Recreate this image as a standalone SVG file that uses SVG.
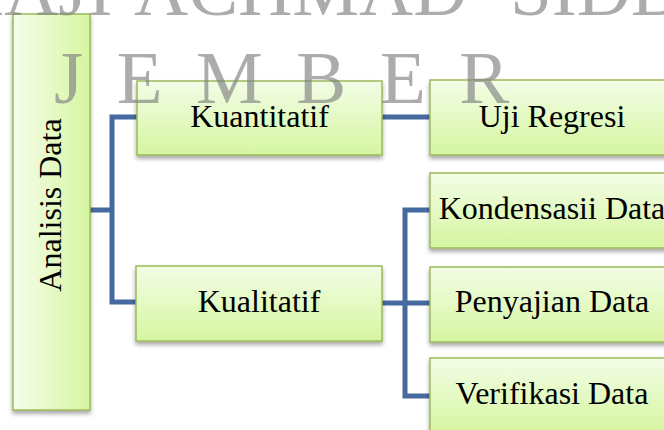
<svg xmlns="http://www.w3.org/2000/svg" width="664" height="430" viewBox="0 0 664 430">
<defs>
<linearGradient id="gv" x1="0" y1="0" x2="0" y2="1">
<stop offset="0" stop-color="#f3fde6"/>
<stop offset="1" stop-color="#d5f6a0"/>
</linearGradient>
<linearGradient id="gh" x1="0" y1="0" x2="1" y2="0">
<stop offset="0" stop-color="#f6fdeb"/>
<stop offset="1" stop-color="#d5f6a0"/>
</linearGradient>
<filter id="sh" x="-20%" y="-20%" width="140%" height="140%">
<feDropShadow dx="0" dy="3" stdDeviation="2" flood-color="#000" flood-opacity="0.35"/>
</filter>
</defs>
<style>
.box{fill:url(#gv);stroke:#9bbb59;stroke-width:1.5;filter:url(#sh)}
.boxh{fill:url(#gh);stroke:#9bbb59;stroke-width:1.5;filter:url(#sh)}
.lbl{font-family:"Liberation Serif","Times New Roman",serif;font-size:32px;fill:#000;text-anchor:middle}
.con{fill:none;stroke:#46699f;stroke-width:5}
.wm{font-family:"Liberation Serif","Times New Roman",serif;font-size:75px;fill:#7f7f7f;fill-opacity:0.65}
</style>
<rect width="664" height="430" fill="#fff"/>
<g id="connectors">
<path class="con" d="M90 210 H112"/>
<path class="con" d="M137 117 H112 V302 H136"/>
<path class="con" d="M382 117 H430"/>
<path class="con" d="M382 303 H430"/>
<path class="con" d="M430 210 H405 V396 H430"/>
</g>
<g id="analisis-data">
<rect class="boxh" x="13" y="14" width="77" height="396"/>
<text class="lbl" transform="translate(61,205) rotate(-90)">Analisis Data</text>
</g>
<g id="kuantitatif">
<rect class="box" x="137" y="81" width="245" height="74"/>
<text class="lbl" x="259.5" y="127">Kuantitatif</text>
</g>
<g id="kualitatif">
<rect class="box" x="136" y="266" width="246" height="75"/>
<text class="lbl" x="259" y="312">Kualitatif</text>
</g>
<g id="uji-regresi">
<rect class="box" x="430" y="80" width="245" height="75"/>
<text class="lbl" x="552" y="127">Uji Regresi</text>
</g>
<g id="kondensasii-data">
<rect class="box" x="430" y="173" width="245" height="75"/>
<text class="lbl" x="552" y="219">Kondensasii Data</text>
</g>
<g id="penyajian-data">
<rect class="box" x="430" y="267" width="245" height="75"/>
<text class="lbl" x="552" y="312">Penyajian Data</text>
</g>
<g id="verifikasi-data">
<rect class="box" x="430" y="358" width="245" height="75"/>
<text class="lbl" x="552" y="404">Verifikasi Data</text>
</g>
<g id="watermark">
<text class="wm" y="15"><tspan x="-50">HAJI</tspan><tspan x="134">ACHMAD</tspan><tspan x="510">SIDDIQ</tspan></text>
<text class="wm" x="54" y="103" letter-spacing="7.4" xml:space="preserve">J E M B E R</text>
</g>
</svg>
